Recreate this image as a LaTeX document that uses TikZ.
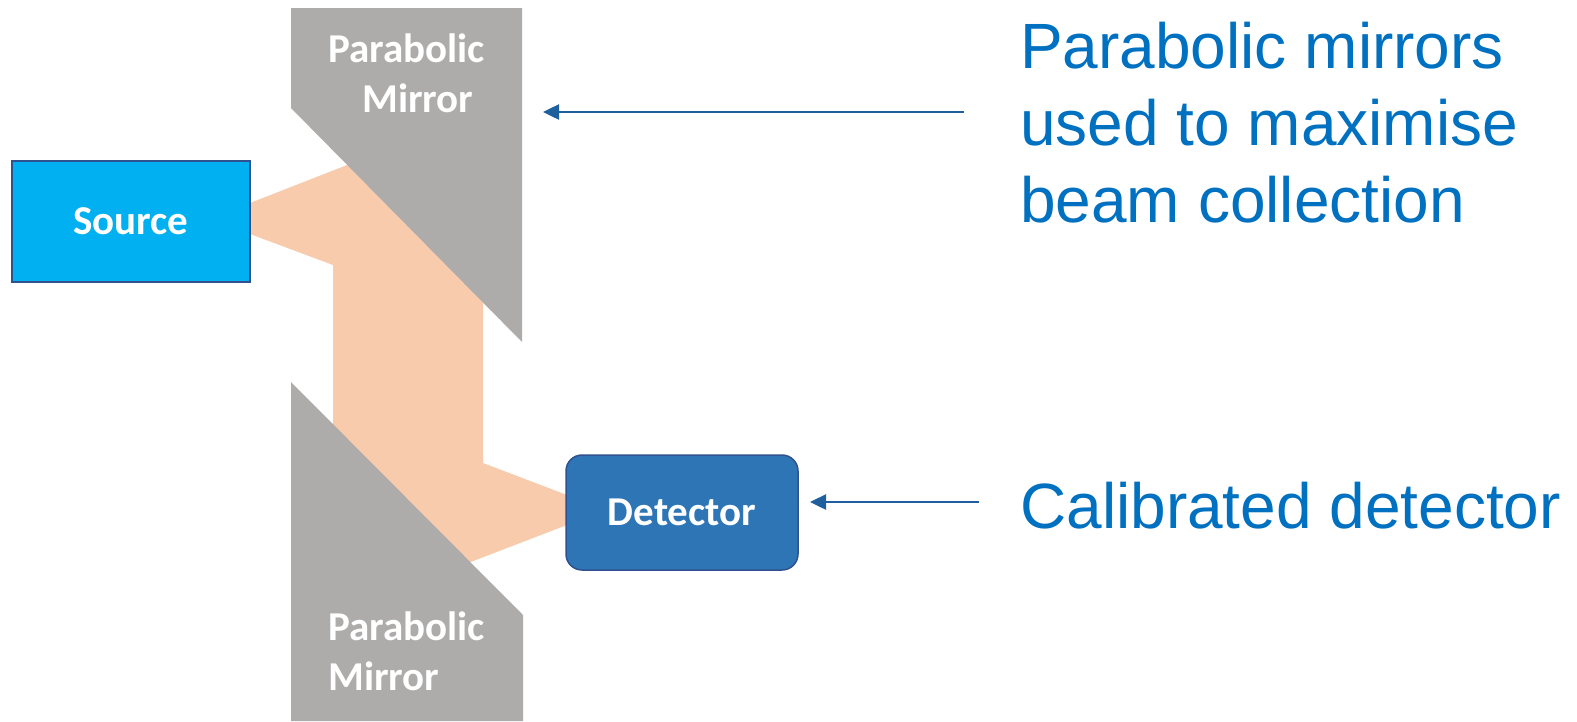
\documentclass[tikz,border=0pt]{standalone}
\usepackage{fontspec}
\setmainfont{Liberation Sans}
\newfontfamily\boxfont{Carlito}
\usetikzlibrary{arrows.meta}

\definecolor{mirrorgray}{HTML}{AEABAB}
\definecolor{beamorange}{HTML}{F8CBAD}
\definecolor{sourceblue}{HTML}{00B0F0}
\definecolor{detblue}{HTML}{2E75B6}
\definecolor{edgeblue}{HTML}{2F528F}
\definecolor{noteblue}{HTML}{0070C0}
\definecolor{arrowblue}{HTML}{1F5F9E}

\tikzset{
  box/.style={draw=edgeblue, line width=1.5pt, text=white,
    font=\boxfont\bfseries\fontsize{41}{49}\selectfont},
  tag/.style={text=white, inner sep=0pt, anchor=base west,
    font=\boxfont\bfseries\fontsize{41}{49}\selectfont},
  note/.style={text=noteblue, inner sep=0pt, align=left,
    font=\fontsize{64}{77}\selectfont},
  pointer/.style={draw=arrowblue, line width=2.5pt,
    -{Triangle[length=16pt,width=15pt]}},
}

\begin{document}
\begin{tikzpicture}[x=1pt,y=-1pt]
\useasboundingbox (0,0) rectangle (1577,721);
% beam first, its ends go under the mirrors and boxes
\fill[beamorange] (250,203) -- (365,158) -- (483,280) -- (483,463) -- (567,495)
  -- (567,525) -- (455,568) -- (333,500) -- (333,265) -- (250,234) -- cycle;
% the two mirrors
\fill[mirrorgray] (291,8) -- (522,8) -- (522,342) -- (291,108) -- cycle;
\fill[mirrorgray] (291,382) -- (523,615) -- (523,721) -- (291,721) -- cycle;
\node[tag] (toptag1) at (328,62) {Parabolic};
\node[tag] (toptag2) at (362,112) {Mirror};
\node[tag] (bottag1) at (328,640) {Parabolic};
\node[tag] (bottag2) at (328,690) {Mirror};
% source and detector
\node[box, fill=sourceblue, minimum width=238pt, minimum height=121pt] (source) at (131,221.5) {Source};
\node[box, fill=detblue, rounded corners=16pt, minimum width=232pt, minimum height=115pt] (detector) at (682,512.5) {Detector};
% notes on the right
\node[note, anchor=north west] (mirrornote) at (1020,22) {Parabolic mirrors\\used to maximise\\beam collection};
\node[note, anchor=base west] (detnote) at (1020,528) {Calibrated detector};
\coordinate (mirrortail) at (964,112);
\coordinate (mirrortip) at (543,112);
\coordinate (dettail) at (979,502);
\coordinate (dettip) at (810,502);
\draw[pointer] (mirrortail) -- (mirrortip);
\draw[pointer] (dettail) -- (dettip);
\end{tikzpicture}
\end{document}
